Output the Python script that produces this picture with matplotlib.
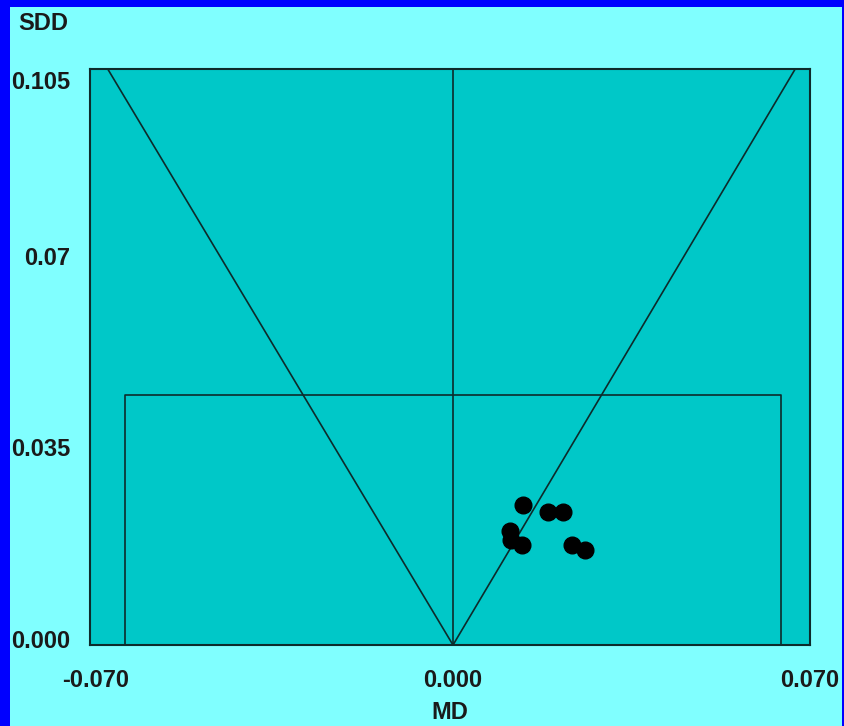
import matplotlib.pyplot as plt
from matplotlib.patches import Rectangle
from matplotlib.transforms import ScaledTranslation

# MD / SDD values
md = [0.0138, 0.0186, 0.0216, 0.0112, 0.0114, 0.0135, 0.0233, 0.0259]
sdd = [0.0255, 0.0243, 0.0243, 0.0207, 0.0191, 0.0182, 0.0182, 0.0173]

# funnel limits (where the V lines hit the top) and the box
v_left = -0.0677
v_right = 0.0671
box_md = 0.0644
box_sdd = 0.0456

x_ticks = [-0.07, 0.0, 0.07]
x_labels = ["-0.070", "0.000", "0.070"]
y_ticks = [0.0, 0.035, 0.07, 0.105]
y_labels = ["0.000", "0.035", "0.07", "0.105"]

plt.rcParams['font.family'] = ['Liberation Sans', 'DejaVu Sans']

W, H = 844, 726
fig = plt.figure(figsize=(W / 100, H / 100), dpi=100, facecolor="#0000ff")
# light cyan panel inside the blue frame
fig.patches.append(Rectangle((10 / W, 0), (842 - 10) / W, (H - 7) / H,
                             transform=fig.transFigure, facecolor="#80ffff",
                             edgecolor="none", zorder=-1))

ax = fig.add_axes([90 / W, (H - 645) / H, 720 / W, 576 / H])
ax.set_facecolor("#00c8c8")
ax.set_xlim(-0.07 * 363 / 357, 0.07)
ax.set_ylim(0, 0.105)

line_col = "#0d2b2b"
# V funnel
ax.plot([v_left, 0, v_right], [0.105, 0, 0.105], color=line_col, lw=1.2)
# vertical line at zero
ax.plot([0, 0], [0, 0.105], color=line_col, lw=1.2)
# box
ax.plot([-box_md, -box_md, box_md, box_md], [0, box_sdd, box_sdd, 0], color=line_col, lw=1.2)

ax.plot(md, sdd, "o", color="black", markersize=12, zorder=5)

for s in ax.spines.values():
    s.set_color(line_col)
    s.set_linewidth(1.5)

txt = dict(fontsize=17, fontweight="bold", color="#1a1a1a")
ax.set_xticks(x_ticks)
ax.set_xticklabels(x_labels, **txt)
ax.set_yticks(y_ticks)
ax.set_yticklabels(y_labels, **txt)
ax.tick_params(length=0)
ax.tick_params(axis="x", pad=17)
ax.tick_params(axis="y", pad=14)

# nudge the y labels like the original (top one sits below the edge)
shifts = [6, 6, 5, -11]
for lab, d in zip(ax.get_yticklabels(), shifts):
    lab.set_transform(lab.get_transform() + ScaledTranslation(0, d / 100, fig.dpi_scale_trans))

ax.set_xlabel("MD", labelpad=7, **txt)
fig.text(18 / W, 1 - 23 / H, "SDD", ha="left", va="center", **txt)

fig.savefig("out.png", dpi=100, facecolor=fig.get_facecolor())
